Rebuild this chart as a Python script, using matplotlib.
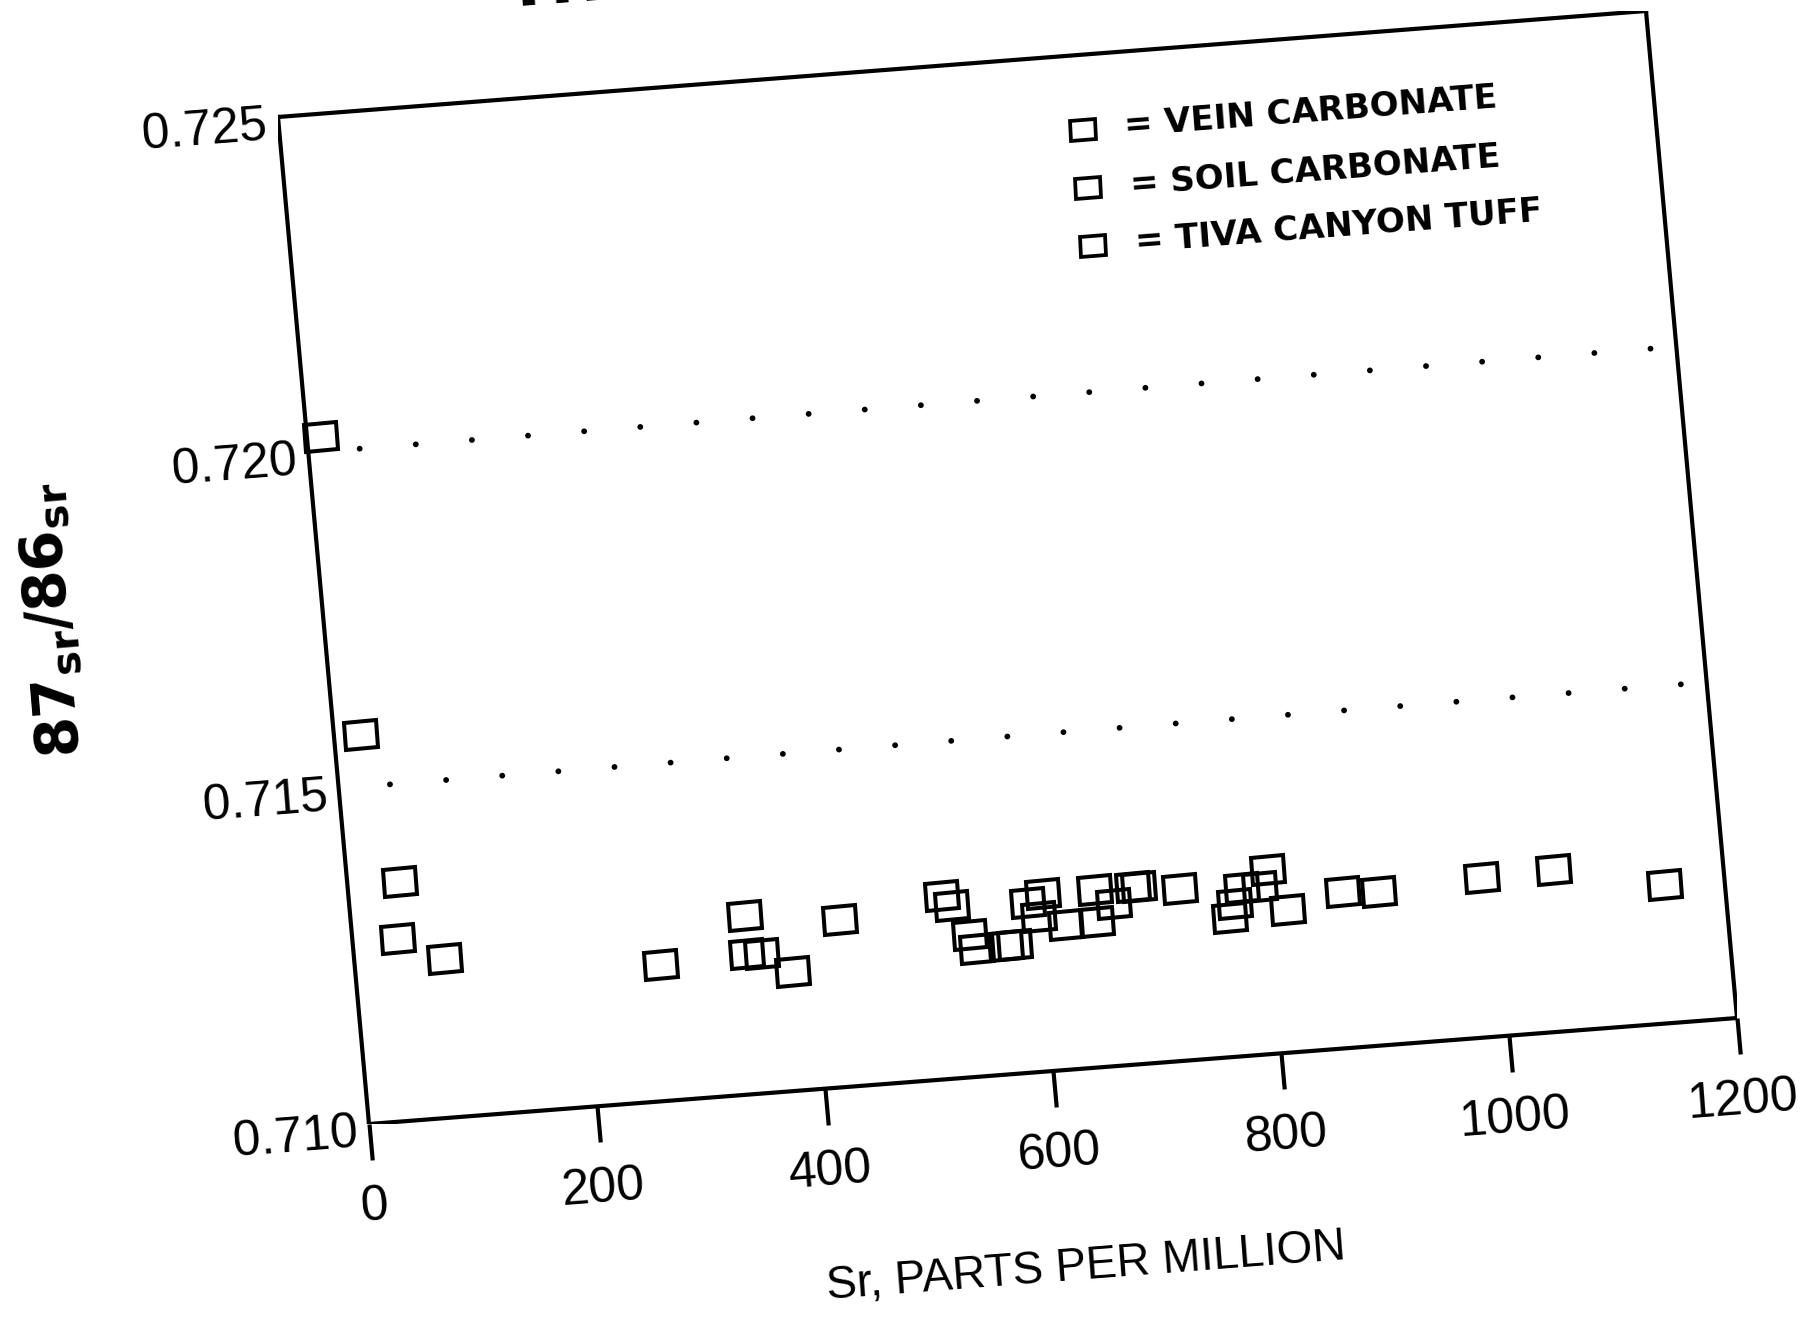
import numpy as np
import matplotlib
matplotlib.use("Agg")
import matplotlib.pyplot as plt
from matplotlib.markers import MarkerStyle
from matplotlib.transforms import Affine2D
from mpl_toolkits.axisartist import floating_axes
from mpl_toolkits.axisartist.grid_finder import FixedLocator

# Sr content (ppm) and 87Sr/86Sr of each sample
sr_ppm = [12, 24, 46, 40, 79, 267, 344, 343, 356, 381, 426,
          517, 525, 538, 543, 569, 577, 591, 605, 600, 623,
          651, 650, 666, 684, 689, 725, 766, 772, 779, 795,
          803, 817, 867, 898, 989, 1052, 1148]
sr_ratio = [0.72022, 0.71577, 0.71354, 0.71271, 0.71235, 0.71202, 0.71265,
            0.71208, 0.71206, 0.71177, 0.71248,
            0.71271, 0.71256, 0.71211, 0.71189, 0.71190, 0.71190, 0.71251,
            0.71263, 0.71230, 0.71214,
            0.71263, 0.71215, 0.71240, 0.71263, 0.71262, 0.71255, 0.71206,
            0.71226, 0.71249, 0.71248,
            0.71272, 0.71211, 0.71231, 0.71227, 0.71236, 0.71240, 0.71205]

# dotted reference levels and how far they run along the Sr axis
ref_ratio = [0.720, 0.715]
ref_span = [45, 1186]

x_ticks = [0, 200, 400, 600, 800, 1000, 1200]
y_ticks = [0.710, 0.715, 0.720, 0.725]
y_tick_labels = ["0.710", "0.715", "0.720", "0.725"]

legend_labels = ["VEIN CARBONATE", "SOIL CARBONATE", "TIVA CANYON TUFF"]

TILT = 4.4  # the whole sheet sits a little rotated


def main():
    plt.rcParams["font.family"] = ["Liberation Sans", "DejaVu Sans"]
    W, H = 1818, 1321
    fig = plt.figure(figsize=(W / 100, H / 100), dpi=100)

    # data -> unit square -> tilted frame in figure pixels
    to_unit = Affine2D().translate(-x_ticks[0], -y_ticks[0]).scale(
        1 / (x_ticks[-1] - x_ticks[0]), 1 / (y_ticks[-1] - y_ticks[0]))
    to_page = Affine2D(np.array([[1368.0, -91.0, 369.0],
                                 [106.0, 1007.0, 197.0],
                                 [0.0, 0.0, 1.0]]))
    tr = to_unit + to_page

    helper = floating_axes.GridHelperCurveLinear(
        tr, extremes=(x_ticks[0], x_ticks[-1], y_ticks[0], y_ticks[-1]),
        grid_locator1=FixedLocator(x_ticks),
        grid_locator2=FixedLocator(y_ticks))

    corners = tr.transform([(x_ticks[0], y_ticks[0]), (x_ticks[-1], y_ticks[0]),
                            (x_ticks[0], y_ticks[-1]), (x_ticks[-1], y_ticks[-1])])
    x0, y0 = corners.min(axis=0)
    x1, y1 = corners.max(axis=0)
    ax = fig.add_axes([x0 / W, y0 / H, (x1 - x0) / W, (y1 - y0) / H],
                      axes_class=floating_axes.FloatingAxes, grid_helper=helper)

    # frame: only the bottom side carries (outward) ticks
    for side in ["top", "right", "left", "bottom"]:
        ax.axis[side].line.set_linewidth(3.0)
        ax.axis[side].toggle(ticklabels=False, label=False)
    for side in ["top", "right", "left"]:
        ax.axis[side].toggle(ticks=False)
    ax.axis["bottom"].major_ticks.set_tick_out(True)
    ax.axis["bottom"].major_ticks.set_ticksize(26)
    ax.axis["bottom"].major_ticks.set_markeredgewidth(3.0)

    aux = ax.get_aux_axes(tr)

    # samples
    box = MarkerStyle("s", fillstyle="none",
                      transform=Affine2D().scale(1.22, 1.0).rotate_deg(TILT))
    aux.plot(sr_ppm, sr_ratio, linestyle="none", marker=box, markersize=19.4,
             markeredgewidth=2.9, color="black", clip_on=False)

    # dotted reference levels
    for level in ref_ratio:
        aux.plot(ref_span, [level, level], color="black", linewidth=4.2,
                 linestyle=(0, (0.01, 9.64)), dash_capstyle="round",
                 clip_on=False)

    # tick labels
    for xv in x_ticks:
        aux.annotate(str(xv), xy=(xv, y_ticks[0]), xytext=(6, -83),
                     textcoords="offset pixels", ha="center", va="center",
                     rotation=TILT, rotation_mode="anchor", fontsize=36,
                     annotation_clip=False)
    for yv, lab in zip(y_ticks, y_tick_labels):
        aux.annotate(lab, xy=(x_ticks[0], yv), xytext=(-11, -9),
                     textcoords="offset pixels", ha="right", va="center",
                     rotation=TILT, rotation_mode="anchor", fontsize=36,
                     annotation_clip=False)

    # legend keys, stacked in the upper right of the frame
    legend_x = 700
    legend_y = [0.72389, 0.72302, 0.72216]
    small_box = MarkerStyle("s", fillstyle="none",
                            transform=Affine2D().scale(1.25, 1.0).rotate_deg(TILT))
    for ly, lab in zip(legend_y, legend_labels):
        aux.plot([legend_x], [ly], linestyle="none", marker=small_box,
                 markersize=14.5, markeredgewidth=2.7, color="black",
                 clip_on=False)
        aux.annotate("= " + lab, xy=(legend_x, ly), xytext=(42, 3),
                     textcoords="offset pixels", ha="left", va="center",
                     rotation=TILT, rotation_mode="anchor", fontsize=24.5,
                     fontweight="bold", family="DejaVu Sans",
                     annotation_clip=False)

    # axis titles
    fig.text(52 / W, 701 / H, r"$\mathbf{87}_{\mathbf{sr}}\mathbf{/86}_{\mathbf{sr}}$",
             rotation=90 + 4.8, ha="center", va="center", fontsize=42)
    fig.text(1086 / W, 54 / H, "Sr, PARTS PER MILLION", rotation=TILT,
             ha="center", va="center", fontsize=33)
    fig.text(507 / W, 1314 / H, "THE", rotation=TILT, rotation_mode="anchor",
             ha="left", va="baseline", fontsize=47, fontweight="bold",
             family="DejaVu Sans")

    ax.set_xlim(x0, x1)
    ax.set_ylim(y0, y1)
    fig.savefig("out.png", dpi=100)


if __name__ == "__main__":
    main()
